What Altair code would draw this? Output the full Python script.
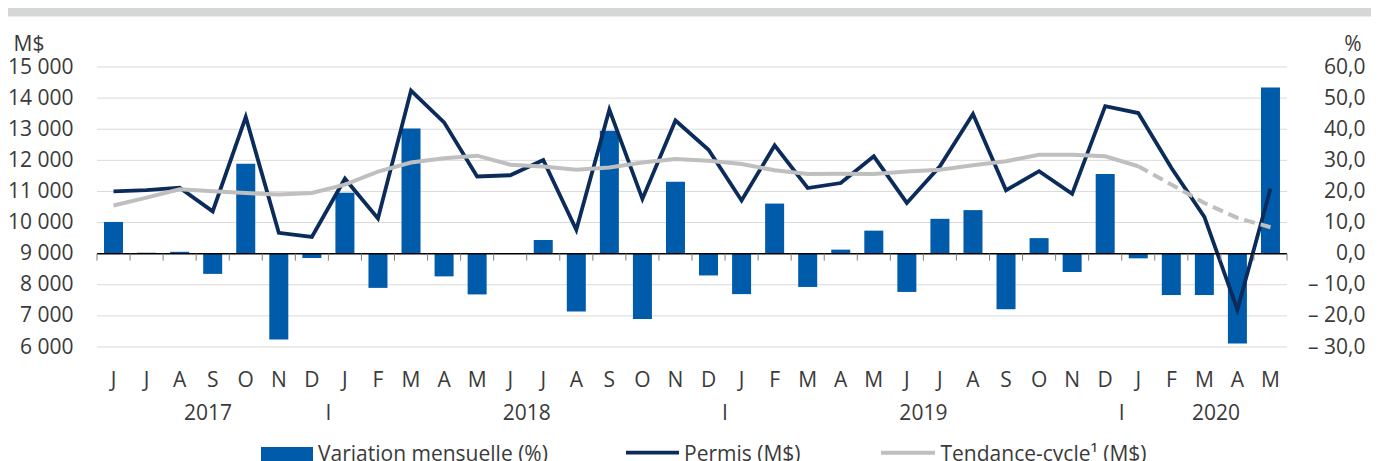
import altair as alt
import pandas as pd

# ---------------- data ----------------
months = ["J", "J", "A", "S", "O", "N", "D",
          "J", "F", "M", "A", "M", "J", "J", "A", "S", "O", "N", "D",
          "J", "F", "M", "A", "M", "J", "J", "A", "S", "O", "N", "D",
          "J", "F", "M", "A", "M"]
variation = [10.2, 0.3, 0.6, -6.5, 28.9, -27.6, -1.4,
             19.6, -11.0, 40.2, -7.3, -13.1, 0.2, 4.4, -18.6, 39.5, -21.0, 23.1, -7.0,
             -13.0, 16.1, -10.7, 1.3, 7.4, -12.3, 11.2, 14.0, -17.9, 5.0, -5.9, 25.6,
             -1.5, -13.3, -13.3, -28.9, 53.4]
permis = [11000, 11040, 11120, 10360, 13390, 9670, 9540,
          11410, 10130, 14240, 13220, 11480, 11520, 12010, 9770, 13630, 10760, 13280, 12340,
          10710, 12480, 11110, 11270, 12130, 10630, 11810, 13490, 11040, 11650, 10920, 13740,
          13520, 11760, 10180, 7200, 11090]
tendance = [10550, 10800, 11070, 11010, 10950, 10900, 10950,
            11220, 11640, 11930, 12070, 12150, 11860, 11800, 11700, 11770, 11930, 12040, 11990,
            11880, 11680, 11560, 11570, 11560, 11640, 11700, 11840, 11970, 12180, 12180, 12130,
            11810, 11220, 10630, 10150, 9850]
last_solid = 31  # trend is provisional (dashed) after January 2020

left_ticks = [6000, 7000, 8000, 9000, 10000, 11000, 12000, 13000, 14000, 15000]
right_ticks = [-30, -20, -10, 0, 10, 20, 30, 40, 50, 60]

years = ["2017", "2018", "2019", "2020"]
year_pos = [2.86, 12.5, 24.5, 33.35]
sep_pos = [6.5, 18.5, 30.5]

legend_labels = ["Variation mensuelle (%)", "Permis (M$)", "Tendance-cycle¹ (M$)"]

# ---------------- styles ----------------
BAR = "#005BAA"
NAVY = "#0B2B5A"
GREY = "#BFBFBF"
TXT = "#3A3A3A"
FS = 21
FONT = "Open Sans"

n = len(months)
idx = list(range(n))
df = pd.DataFrame({"i": idx, "mois": months, "var": variation,
                   "permis": permis, "tend": tendance})
df_solid = df[df.i <= last_solid]
df_dash = df[df.i >= last_solid]

xs = alt.Scale(domain=[-0.5, n - 0.5], nice=False, zero=False)
yl = alt.Scale(domain=[6000, 15000], nice=False, zero=False)
yr = alt.Scale(domain=[-30, 60], nice=False, zero=False)

X_NOAXIS = dict(scale=xs, axis=None)
Y_NOAXIS = dict(scale=yl, axis=None)

# gridlines (M$ scale)
grid_df = pd.DataFrame({"g": [v for v in left_ticks if v != 9000]})
grid = alt.Chart(grid_df).transform_calculate(a="-0.5", b=str(n - 0.5)).mark_rule(
    color="#D9D9D9", strokeWidth=1).encode(
    x=alt.X("a:Q", **X_NOAXIS), x2="b:Q",
    y=alt.Y("g:Q", **Y_NOAXIS),
)

# bars on the right (percent) axis
bars = alt.Chart(df).transform_calculate(
    x0="datum.i - 0.2875", x1="datum.i + 0.2875").mark_bar(color=BAR).encode(
    x=alt.X("x0:Q", **X_NOAXIS), x2="x1:Q",
    y=alt.Y("var:Q", scale=yr, axis=alt.Axis(
        orient="right", values=right_ticks,
        labelExpr="(datum.value < 0 ? '– ' : '') + replace(format(abs(datum.value), '.1f'), '.', ',')",
        grid=False, ticks=False, domain=False, labelAlign="right", labelPadding=78,
        labelFontSize=FS, labelColor=TXT,
        title="%", titleAngle=0, titleX=74, titleY=-17, titleAlign="right",
        titleBaseline="alphabetic", titleFontWeight="normal", titleFontSize=FS,
        titleColor=TXT)),
    y2=alt.Y2(datum=0),
)

# permis line carries the left axis
permis_line = alt.Chart(df).mark_line(color=NAVY, strokeWidth=3.8).encode(
    x=alt.X("i:Q", **X_NOAXIS),
    y=alt.Y("permis:Q", scale=yl, axis=alt.Axis(
        orient="left", values=left_ticks,
        labelExpr="replace(format(datum.value, ','), ',', ' ')",
        grid=False, ticks=False, domain=False,
        labelPadding=24, labelFontSize=FS, labelColor=TXT,
        title="M$", titleAngle=0, titleX=-84, titleY=-17, titleAlign="left",
        titleBaseline="alphabetic", titleFontWeight="normal", titleFontSize=FS,
        titleColor=TXT)),
)

trend_solid = alt.Chart(df_solid).mark_line(color=GREY, strokeWidth=4).encode(
    x=alt.X("i:Q", **X_NOAXIS),
    y=alt.Y("tend:Q", **Y_NOAXIS),
)
trend_dash = alt.Chart(df_dash).mark_line(color=GREY, strokeWidth=4, strokeDash=[11, 6]).encode(
    x=alt.X("i:Q", **X_NOAXIS),
    y=alt.Y("tend:Q", **Y_NOAXIS),
)

# category tick marks hanging below the zero line
bounds = pd.DataFrame({"b": [i - 0.5 for i in range(n + 1)]})
ticks = alt.Chart(bounds).transform_calculate(y="9000", y2="8775").mark_rule(
    color="#7F7F7F", strokeWidth=1).encode(
    x=alt.X("b:Q", **X_NOAXIS),
    y=alt.Y("y:Q", **Y_NOAXIS),
    y2="y2:Q",
)
zero_line = alt.Chart(pd.DataFrame({"a": [-0.5], "b": [n - 0.5], "y": [9000]})).mark_rule(
    color="black", strokeWidth=1.5).encode(
    x=alt.X("a:Q", **X_NOAXIS), x2="b:Q",
    y=alt.Y("y:Q", **Y_NOAXIS),
)

# month letters, year labels and separators
month_text = alt.Chart(df).mark_text(
    fontSize=FS, color=TXT, baseline="alphabetic", align="center").encode(
    x=alt.X("i:Q", **X_NOAXIS), y=alt.value(319.7), text="mois:N")
year_df = pd.DataFrame({"lab": years, "pos": year_pos})
year_text = alt.Chart(year_df).mark_text(
    fontSize=FS, color=TXT, baseline="alphabetic", align="center").encode(
    x=alt.X("pos:Q", **X_NOAXIS), y=alt.value(352.5), text="lab:N")
sep_df = pd.DataFrame({"pos": sep_pos, "lab": ["I"] * len(sep_pos)})
sep_text = alt.Chart(sep_df).mark_text(
    fontSize=FS, color=TXT, baseline="alphabetic", align="center").encode(
    x=alt.X("pos:Q", **X_NOAXIS), y=alt.value(352.5), text="lab:N")

one = pd.DataFrame({"k": [0]})
top_band = alt.Chart(one).mark_rect(color="#D5D7D6").encode(
    x=alt.value(-89), x2=alt.value(1274), y=alt.value(-59), y2=alt.value(-50.5))

# legend (drawn by hand, clipped at the bottom like the original)
leg_bar = alt.Chart(one).mark_rect(color=BAR).encode(
    x=alt.value(164), x2=alt.value(216), y=alt.value(380), y2=alt.value(398))
leg_l1 = alt.Chart(one).mark_rule(color=NAVY, strokeWidth=3.8).encode(
    x=alt.value(529), x2=alt.value(582), y=alt.value(385.7))
leg_l2 = alt.Chart(one).mark_rule(color=GREY, strokeWidth=4).encode(
    x=alt.value(784), x2=alt.value(838), y=alt.value(385.7))
leg_x = [221, 587, 843.5]
leg_texts = [
    alt.Chart(pd.DataFrame({"lab": [lab]})).mark_text(
        fontSize=FS, color=TXT, baseline="alphabetic", align="left").encode(
        x=alt.value(px), y=alt.value(393.5), text="lab:N")
    for lab, px in zip(legend_labels, leg_x)
]

chart = alt.layer(
    grid, bars, permis_line, top_band, zero_line, ticks, trend_solid, trend_dash,
    month_text, year_text, sep_text, leg_bar, leg_l1, leg_l2, *leg_texts
).resolve_scale(y="independent").properties(
    width=1190, height=280,
    autosize=alt.AutoSizeParams(type="none"),
    padding={"left": 89, "top": 59, "right": 84, "bottom": 114},
).configure(font=FONT).configure_view(stroke=None)

chart.save("out.html", embed_options={"renderer": "svg", "actions": False})
